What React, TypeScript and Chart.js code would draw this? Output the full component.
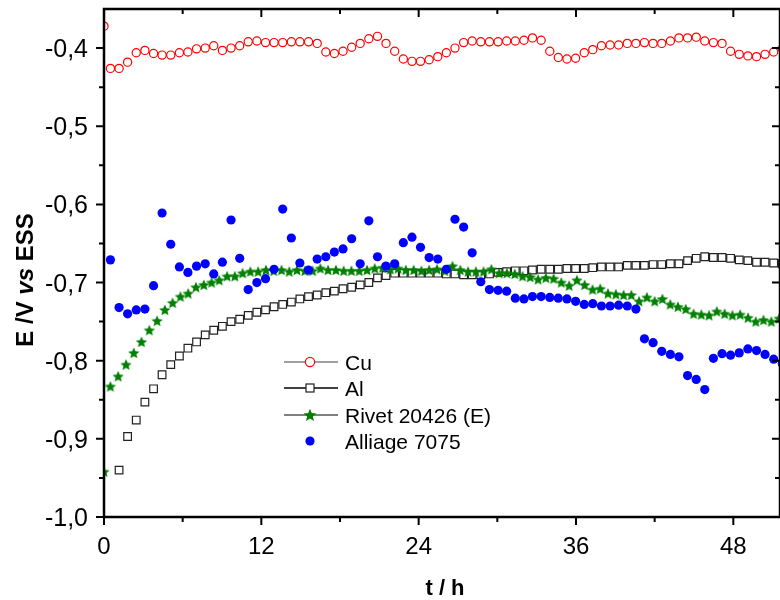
import React, { useEffect, useRef } from 'react';
import { Chart, registerables } from 'chart.js';
Chart.register(...registerables);

// ---- data ----
const TIME = [0, 0.49, 1.15, 1.80, 2.46, 3.12, 3.78, 4.43, 5.09, 5.75, 6.40, 7.06, 7.72, 8.37, 9.03, 9.69, 10.35, 11.00, 11.66, 12.32, 12.97, 13.63, 14.29, 14.94, 15.60, 16.26, 16.92, 17.57, 18.23, 18.89, 19.54, 20.20, 20.86, 21.51, 22.17, 22.83, 23.49, 24.14, 24.80, 25.46, 26.11, 26.77, 27.43, 28.08, 28.74, 29.40, 30.06, 30.71, 31.37, 32.03, 32.68, 33.34, 34.00, 34.65, 35.31, 35.97, 36.63, 37.28, 37.94, 38.60, 39.25, 39.91, 40.57, 41.22, 41.88, 42.54, 43.20, 43.85, 44.51, 45.17, 45.82, 46.48, 47.14, 47.79, 48.45, 49.11, 49.77, 50.42, 51.08, 51.74];

const CU = [-0.372, -0.426, -0.426, -0.418, -0.406, -0.403, -0.407, -0.409, -0.409, -0.406,
  -0.405, -0.401, -0.400, -0.397, -0.403, -0.400, -0.397, -0.392, -0.391, -0.393,
  -0.393, -0.393, -0.392, -0.392, -0.392, -0.394, -0.405, -0.407, -0.404, -0.399,
  -0.394, -0.388, -0.385, -0.394, -0.404, -0.414, -0.417, -0.417, -0.415, -0.411,
  -0.406, -0.400, -0.393, -0.391, -0.392, -0.392, -0.392, -0.391, -0.391, -0.390,
  -0.387, -0.390, -0.404, -0.412, -0.414, -0.413, -0.406, -0.402, -0.397, -0.396,
  -0.396, -0.394, -0.394, -0.393, -0.394, -0.394, -0.391, -0.387, -0.387, -0.386,
  -0.391, -0.393, -0.394, -0.404, -0.408, -0.410, -0.411, -0.408, -0.405, -0.401];

const AL = [null, null,
  -0.940, -0.897, -0.876, -0.853, -0.836, -0.818, -0.805, -0.794, -0.784, -0.776,
  -0.767, -0.761, -0.756, -0.750, -0.747, -0.742, -0.738, -0.735, -0.731, -0.728,
  -0.725, -0.721, -0.718, -0.716, -0.713, -0.711, -0.708, -0.706, -0.703, -0.700,
  -0.694, -0.691, -0.688, -0.688, -0.688, -0.688, -0.688, -0.688, -0.689, -0.689,
  -0.690, -0.690, -0.690, -0.689, -0.687, -0.686, -0.685, -0.685, -0.684, -0.683,
  -0.683, -0.683, -0.682, -0.682, -0.682, -0.681, -0.680, -0.680, -0.680, -0.678,
  -0.678, -0.678, -0.677, -0.677, -0.676, -0.676, -0.672, -0.669, -0.667, -0.668,
  -0.668, -0.669, -0.671, -0.672, -0.674, -0.674, -0.675, -0.676];

const ALLIAGE = [null,
  -0.671, -0.732, -0.740, -0.735, -0.734, -0.704, -0.611, -0.651, -0.680, -0.687,
  -0.679, -0.676, -0.689, -0.674, -0.620, -0.669, -0.709, -0.700, -0.695, -0.683,
  -0.606, -0.643, -0.675, -0.684, -0.670, -0.667, -0.661, -0.657, -0.644, -0.676,
  -0.621, -0.667, -0.679, -0.676, -0.649, -0.642, -0.655, -0.668, -0.670, -0.683,
  -0.619, -0.629, -0.662, -0.699, -0.709, -0.710, -0.711, -0.720, -0.721, -0.718,
  -0.718, -0.719, -0.720, -0.721, -0.724, -0.728, -0.727, -0.730, -0.730, -0.729,
  -0.730, -0.734, -0.772, -0.777, -0.788, -0.792, -0.795, -0.819, -0.824, -0.837,
  -0.797, -0.791, -0.793, -0.790, -0.785, -0.787, -0.792, -0.798, -0.804];

const RIVET_TIME = [0, 0.49, 1.08, 1.68, 2.27, 2.86, 3.46, 4.05, 4.64, 5.23, 5.83, 6.42, 7.01, 7.61, 8.20, 8.79, 9.39, 9.98, 10.57, 11.16, 11.76, 12.35, 12.94, 13.54, 14.13, 14.72, 15.32, 15.91, 16.50, 17.09, 17.69, 18.28, 18.87, 19.47, 20.06, 20.65, 21.25, 21.84, 22.43, 23.02, 23.62, 24.21, 24.80, 25.40, 25.99, 26.58, 27.18, 27.77, 28.36, 28.95, 29.55, 30.14, 30.73, 31.33, 31.92, 32.51, 33.11, 33.70, 34.29, 34.88, 35.48, 36.07, 36.66, 37.26, 37.85, 38.44, 39.04, 39.63, 40.22, 40.81, 41.41, 42.00, 42.59, 43.19, 43.78, 44.37, 44.97, 45.56, 46.15, 46.74, 47.34, 47.93, 48.52, 49.12, 49.71, 50.30, 50.90, 51.49];

const RIVET = [-0.942,
  -0.833, -0.820, -0.805, -0.790, -0.776, -0.761, -0.749, -0.735, -0.726, -0.718,
  -0.714, -0.706, -0.703, -0.700, -0.697, -0.692, -0.692, -0.688, -0.686, -0.686,
  -0.684, -0.685, -0.684, -0.686, -0.684, -0.685, -0.685, -0.682, -0.684, -0.684,
  -0.685, -0.685, -0.685, -0.684, -0.682, -0.681, -0.683, -0.682, -0.684, -0.684,
  -0.685, -0.684, -0.683, -0.685, -0.679, -0.684, -0.686, -0.686, -0.686, -0.683,
  -0.688, -0.688, -0.689, -0.692, -0.693, -0.696, -0.694, -0.695, -0.700, -0.704,
  -0.697, -0.703, -0.709, -0.708, -0.714, -0.715, -0.716, -0.716, -0.724, -0.719,
  -0.724, -0.721, -0.728, -0.731, -0.734, -0.740, -0.741, -0.742, -0.737, -0.740,
  -0.742, -0.741, -0.745, -0.750, -0.748, -0.750, -0.746];

const SERIES_NAMES = ['Cu', 'Al', 'Rivet 20426 (E)', 'Alliage 7075'];
const X_TICKS = [0, 12, 24, 36, 48];
const X_MINOR = [6, 18, 30, 42];
const Y_TICKS = [-1.0, -0.9, -0.8, -0.7, -0.6, -0.5, -0.4];
const Y_MINOR = [-0.95, -0.85, -0.75, -0.65, -0.55, -0.45];
const X_TITLE = 't / h';
const Y_TITLE_PARTS = [
  { text: 'E /V ', italic: false },
  { text: 'vs', italic: true },
  { text: ' ESS', italic: false },
];

const FAM = "'Liberation Sans', Arial, Helvetica, sans-serif";
const GREEN = '#008000';

function starPath(g: CanvasRenderingContext2D, cx: number, cy: number, ro: number, ri: number) {
  g.beginPath();
  for (let i = 0; i < 10; i++) {
    const a = -Math.PI / 2 + (i * Math.PI) / 5;
    const r = i % 2 === 0 ? ro : ri;
    const px = cx + r * Math.cos(a);
    const py = cy + r * Math.sin(a);
    if (i === 0) g.moveTo(px, py); else g.lineTo(px, py);
  }
  g.closePath();
}

function makeStar(ro: number, color: string) {
  const size = Math.ceil(ro * 2 + 2);
  const c = document.createElement('canvas');
  c.width = size; c.height = size;
  const g = c.getContext('2d')!;
  starPath(g, size / 2, size / 2 + 0.5, ro, ro * 0.45);
  g.fillStyle = color; g.fill();
  return c;
}

const fmt = (v: number) => v.toFixed(1).replace('.', ',');

const framePlugin = {
  id: 'frame',
  afterDatasetsDraw(chart: any) {
    const { ctx, chartArea: a, scales } = chart;
    const x = scales.x, y = scales.y;
    ctx.save();
    ctx.strokeStyle = '#000';
    ctx.lineWidth = 2.5;
    ctx.strokeRect(a.left, a.top, a.right - a.left, a.bottom - a.top);
    ctx.lineWidth = 2;
    ctx.beginPath();
    X_TICKS.forEach((v) => {
      const px = x.getPixelForValue(v);
      ctx.moveTo(px, a.bottom); ctx.lineTo(px, a.bottom + 8);
      ctx.moveTo(px, a.top); ctx.lineTo(px, a.top + 8);
    });
    X_MINOR.forEach((v) => {
      const px = x.getPixelForValue(v);
      ctx.moveTo(px, a.bottom); ctx.lineTo(px, a.bottom + 5);
      ctx.moveTo(px, a.top); ctx.lineTo(px, a.top + 5);
    });
    Y_TICKS.forEach((v) => {
      const py = y.getPixelForValue(v);
      ctx.moveTo(a.left - 8, py); ctx.lineTo(a.left, py);
      ctx.moveTo(a.right, py); ctx.lineTo(a.right - 8, py);
    });
    Y_MINOR.forEach((v) => {
      const py = y.getPixelForValue(v);
      ctx.moveTo(a.left - 5, py); ctx.lineTo(a.left, py);
      ctx.moveTo(a.right, py); ctx.lineTo(a.right - 5, py);
    });
    ctx.stroke();
    ctx.restore();
  },
};

const textPlugin = {
  id: 'texts',
  afterDraw(chart: any) {
    const { ctx, chartArea: a, scales } = chart;
    const x = scales.x, y = scales.y;
    ctx.save();
    ctx.fillStyle = '#000';
    // y tick labels
    ctx.font = `25px ${FAM}`;
    ctx.textAlign = 'right';
    ctx.textBaseline = 'alphabetic';
    Y_TICKS.forEach((v) => {
      const py = y.getPixelForValue(v);
      ctx.fillText(fmt(v), a.left - 16, py + 9);
    });
    // x tick labels
    ctx.font = `24px ${FAM}`;
    ctx.textAlign = 'center';
    X_TICKS.forEach((v) => {
      const px = x.getPixelForValue(v);
      ctx.fillText(String(v), px, a.bottom + 37);
    });
    // x title
    ctx.font = `bold 22px ${FAM}`;
    ctx.fillText(X_TITLE, 445, 595);
    // y title (rotated, mixed styles)
    ctx.save();
    ctx.translate(33, 280);
    ctx.rotate(-Math.PI / 2);
    ctx.textAlign = 'left';
    let total = 0;
    const widths = Y_TITLE_PARTS.map((p) => {
      ctx.font = `${p.italic ? 'italic ' : ''}bold 24px ${FAM}`;
      const w = ctx.measureText(p.text).width;
      total += w;
      return w;
    });
    let cx = -total / 2;
    Y_TITLE_PARTS.forEach((p, i) => {
      ctx.font = `${p.italic ? 'italic ' : ''}bold 24px ${FAM}`;
      ctx.fillText(p.text, cx, 0);
      cx += widths[i];
    });
    ctx.restore();

    // legend
    const rows = [362, 388, 415, 441];
    const lx0 = 284, lx1 = 338, mx = 310, tx = 345;
    ctx.font = `21px ${FAM}`;
    ctx.textAlign = 'left';
    ctx.textBaseline = 'alphabetic';
    rows.forEach((ry, i) => {
      if (i < 3) {
        ctx.beginPath();
        ctx.strokeStyle = i === 1 ? '#000' : '#808080';
        ctx.lineWidth = i === 2 ? 2 : 1.5;
        ctx.moveTo(lx0, ry); ctx.lineTo(lx1, ry);
        ctx.stroke();
      }
      if (i === 0) {
        ctx.beginPath(); ctx.arc(mx, ry, 4.6, 0, Math.PI * 2);
        ctx.fillStyle = '#fff'; ctx.fill();
        ctx.strokeStyle = '#ff0000'; ctx.lineWidth = 1.2; ctx.stroke();
      } else if (i === 1) {
        ctx.fillStyle = '#fff'; ctx.fillRect(mx - 4, ry - 4, 8, 8);
        ctx.strokeStyle = '#222'; ctx.lineWidth = 1.2; ctx.strokeRect(mx - 4, ry - 4, 8, 8);
      } else if (i === 2) {
        starPath(ctx, mx, ry + 0.5, 6.8, 3.0);
        ctx.fillStyle = GREEN; ctx.fill();
      } else {
        ctx.beginPath(); ctx.arc(mx, ry, 4.6, 0, Math.PI * 2);
        ctx.fillStyle = '#0000ff'; ctx.fill();
      }
      ctx.fillStyle = '#000';
      ctx.fillText(SERIES_NAMES[i], tx, ry + 7.5);
    });
    ctx.restore();
  },
};

function pts(xs: number[], ys: (number | null)[]) {
  const out: { x: number; y: number }[] = [];
  xs.forEach((t, i) => {
    const v = ys[i];
    if (v !== null && v !== undefined) out.push({ x: t, y: v });
  });
  return out;
}

export default function App() {
  const ref = useRef<HTMLCanvasElement | null>(null);
  useEffect(() => {
    if (!ref.current) return;
    const star = makeStar(6, GREEN);
    const chart = new Chart(ref.current, {
      type: 'scatter',
      data: {
        datasets: [
          {
            label: SERIES_NAMES[0], data: pts(TIME, CU), showLine: false, order: 4,
            pointStyle: 'circle', pointRadius: 4.1, pointBorderColor: '#ff0000',
            pointBackgroundColor: 'rgba(255,255,255,0)', pointBorderWidth: 1.2,
          },
          {
            label: SERIES_NAMES[1], data: pts(TIME, AL), showLine: false, order: 3,
            pointStyle: 'rect', pointRadius: 5.4, pointBorderColor: '#222',
            pointBackgroundColor: 'rgba(255,255,255,0)', pointBorderWidth: 1.2,
          },
          {
            label: SERIES_NAMES[2], data: pts(RIVET_TIME, RIVET), showLine: false, order: 2,
            pointStyle: star as any, pointRadius: 6,
          },
          {
            label: SERIES_NAMES[3], data: pts(TIME, ALLIAGE), showLine: false, order: 1,
            pointStyle: 'circle', pointRadius: 4.6, pointBorderWidth: 0,
            pointBackgroundColor: '#0000ff', pointBorderColor: '#0000ff',
          },
        ],
      },
      options: {
        animation: false,
        responsive: false,
        maintainAspectRatio: false,
        layout: { autoPadding: false, padding: { top: 9, right: 0, left: 0, bottom: 0 } },
        plugins: { legend: { display: false }, tooltip: { enabled: false } },
        scales: {
          x: {
            type: 'linear', min: 0, max: 51.56,
            grid: { display: false }, border: { display: false },
            ticks: { display: false },
            afterBuildTicks: (s: any) => { s.ticks = X_TICKS.map((v) => ({ value: v })); },
            afterFit: (s: any) => { s.height = 83; s.paddingLeft = 0; s.paddingRight = 0; },
          },
          y: {
            type: 'linear', min: -1.0, max: -0.35,
            grid: { display: false }, border: { display: false },
            ticks: { display: false },
            afterBuildTicks: (s: any) => { s.ticks = Y_TICKS.map((v) => ({ value: v })); },
            afterFit: (s: any) => { s.width = 104; s.paddingTop = 0; s.paddingBottom = 0; },
          },
        },
      } as any,
      plugins: [framePlugin, textPlugin],
    });
    return () => chart.destroy();
  }, []);
  return (
    <div style={{ position: 'absolute', left: 0, top: 0, width: 780, height: 600, background: '#fff' }}>
      <canvas ref={ref} width={780} height={600} style={{ width: 780, height: 600, display: 'block' }} />
    </div>
  );
}
